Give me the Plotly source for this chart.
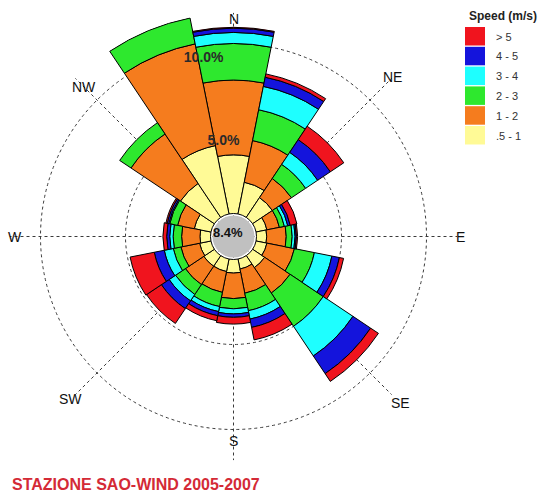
import numpy as np
import plotly.graph_objects as go

# ---- data -------------------------------------------------------------
directions = ["N", "NNE", "NE", "ENE", "E", "ESE", "SE", "SSE",
              "S", "SSW", "SW", "WSW", "W", "WNW", "NW", "NNW"]
speed_classes = [".5 - 1", "1 - 2", "2 - 3", "3 - 4", "4 - 5", "> 5"]

# frequency (%) of each speed class, per direction sector
freq_05_1 = [3.45, 1.90, 1.40, 0.65, 0.60, 0.65, 0.85, 0.60,
             0.80, 0.75, 0.75, 0.68, 0.62, 1.00, 2.40, 4.10]
freq_1_2 = [4.40, 2.50, 1.35, 0.75, 1.15, 1.65, 1.80, 1.45,
            1.50, 1.25, 1.30, 1.12, 1.08, 1.00, 3.50, 6.10]
freq_2_3 = [2.15, 1.85, 1.00, 0.30, 0.35, 1.20, 2.35, 1.05,
            0.60, 0.85, 0.70, 0.46, 0.50, 0.47, 0.80, 1.55]
freq_3_4 = [0.65, 1.40, 0.85, 0.20, 0.17, 1.05, 2.10, 0.50,
            0.30, 0.30, 0.45, 0.54, 0.20, 0.06, 0.00, 0.00]
freq_4_5 = [0.25, 0.55, 0.90, 0.15, 0.08, 0.45, 1.25, 0.50,
            0.20, 0.25, 0.55, 0.60, 0.18, 0.09, 0.00, 0.00]
freq_gt5 = [0.05, 0.20, 0.95, 0.40, 0.07, 0.25, 0.55, 0.75,
            0.40, 0.30, 1.05, 1.45, 0.22, 0.08, 0.00, 0.00]

calm_pct = 8.4
ring_values = [5, 10]
compass_labels = ["N", "NE", "E", "SE", "S", "SW", "W", "NW"]
title_text = "STAZIONE SAO-WIND 2005-2007"

# ---- styling ----------------------------------------------------------
class_colors = ["#FFFA96", "#F57C1E", "#2EE82E", "#1EFFFF", "#1414DC", "#F0141E"]
W, H = 542, 496
cx, cy = 233.5, 236.5            # centre of the rose, px
px_per_pct = 17.0                # radial scale, px per percent
hole_px = 23.0                   # radius where the bars start
r_max = 11.8
r_min = -hole_px / px_per_pct
Rd = px_per_pct * (r_max - r_min)
FONT = "Liberation Sans, Arial, sans-serif"
GRID = dict(gridcolor="#3a3a3a", griddash="3px,3px", gridwidth=1)

theta = np.arange(len(directions)) * 22.5
table = np.array([freq_05_1, freq_1_2, freq_2_3, freq_3_4, freq_4_5, freq_gt5])
bases = np.vstack([np.zeros(len(directions)), np.cumsum(table, axis=0)[:-1]])

fig = go.Figure()

# calm disk in the middle
fig.add_trace(go.Barpolar(
    r=[21.0 / px_per_pct], base=[r_min], theta=[0], width=[360],
    marker=dict(color="#C0C0C0", line=dict(width=0)),
    hoverinfo="skip", showlegend=False))

for i, name in enumerate(speed_classes):
    fig.add_trace(go.Barpolar(
        r=table[i], base=bases[i], theta=theta, width=22.5, name=name,
        marker=dict(color=class_colors[i], line=dict(color="black", width=1)),
        showlegend=False))

# ring labels
fig.add_trace(go.Scatterpolar(
    r=[v - 0.72 for v in ring_values], theta=[354, 350.5],
    text=[f"{v:.1f}%" for v in ring_values], mode="text",
    textfont=dict(family=FONT, size=14, color="#2a2a2a", weight="bold"),
    hoverinfo="skip", showlegend=False))

fig.update_layout(
    width=W, height=H, margin=dict(l=0, r=0, t=0, b=0),
    paper_bgcolor="white", plot_bgcolor="white",
    polar=dict(
        domain=dict(x=[(cx - Rd) / W, (cx + Rd) / W],
                    y=[1 - (cy + Rd) / H, 1 - (cy - Rd) / H]),
        bgcolor="rgba(0,0,0,0)",
        barmode="overlay",
        radialaxis=dict(range=[r_min, r_max], tickvals=ring_values,
                        showticklabels=False, ticks="", showline=False, **GRID),
        angularaxis=dict(direction="clockwise", rotation=90,
                         tickvals=list(range(0, 360, 45)),
                         showticklabels=False, ticks="", showline=False, **GRID),
    ),
)


def paper(x, y):
    return x / W, 1 - y / H


annotations = []
# compass labels
label_radius = {"N": 217, "NE": 225, "E": 227, "SE": 236,
                "S": 204, "SW": 230, "W": 219, "NW": 212}
for k, lab in enumerate(compass_labels):
    a = np.deg2rad(k * 45)
    rr = label_radius[lab]
    x, y = paper(cx + rr * np.sin(a), cy - rr * np.cos(a))
    annotations.append(dict(x=x, y=y, xref="paper", yref="paper",
                            xanchor="center", yanchor="middle",
                            text=lab, showarrow=False,
                            font=dict(family=FONT, size=14, color="#111111")))

# calm value
x, y = paper(cx - 6, cy - 4)
annotations.append(dict(x=x, y=y, xref="paper", yref="paper",
                        xanchor="center", yanchor="middle",
                        text=f"{calm_pct}%", showarrow=False,
                        font=dict(family=FONT, size=13, color="#111111", weight="bold")))

# title
x, y = paper(10, 484)
annotations.append(dict(x=x, y=y, xref="paper", yref="paper",
                        xanchor="left", yanchor="middle", text=title_text, showarrow=False,
                        font=dict(family=FONT, size=16, color="#D42A36", weight="bold")))

# legend
x, y = paper(467, 16)
annotations.append(dict(x=x, y=y, xref="paper", yref="paper",
                        xanchor="left", yanchor="middle", text="Speed (m/s)", showarrow=False,
                        font=dict(family=FONT, size=12, color="#222222", weight="bold")))
shapes = []
for j, name in enumerate(reversed(speed_classes)):
    col = class_colors[len(speed_classes) - 1 - j]
    top = 27 + j * 19.8
    x0, y1 = paper(465, top)
    x1, y0 = paper(485, top + 18.5)
    shapes.append(dict(type="rect", xref="paper", yref="paper",
                       x0=x0, x1=x1, y0=y0, y1=y1,
                       fillcolor=col, line=dict(width=0)))
    x, y = paper(494, top + 9.5)
    annotations.append(dict(x=x, y=y, xref="paper", yref="paper",
                            xanchor="left", yanchor="middle", text=name, showarrow=False,
                            font=dict(family=FONT, size=11, color="#333333")))

fig.update_layout(annotations=annotations, shapes=shapes)
fig.write_html("out.html")
